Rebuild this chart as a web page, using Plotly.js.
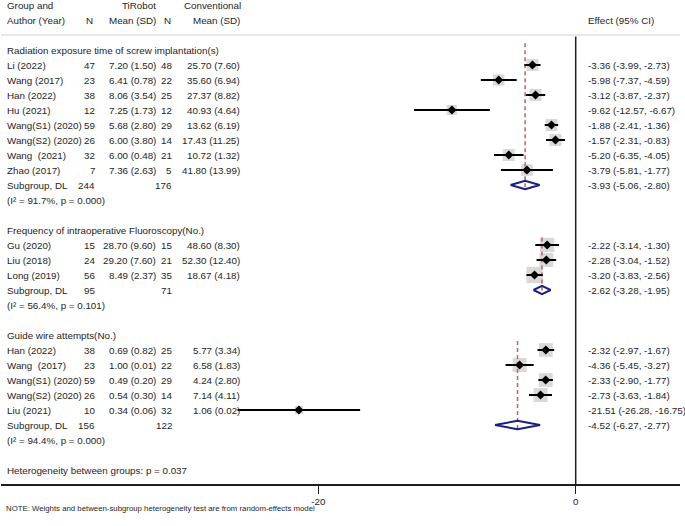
<!DOCTYPE html>
<html>
<head>
<meta charset="utf-8">
<script src="https://cdn.plot.ly/plotly-3.0.1.min.js"></script>
<style>html,body{margin:0;padding:0;background:#fff;}#chart{width:685px;height:526px;}</style>
</head>
<body>
<div id="chart"></div>
<script>
// ---------------- DATA ----------------
const groupNames = [
  "Radiation exposure time of screw implantation(s)",
  "Frequency of intraoperative Fluoroscopy(No.)",
  "Guide wire attempts(No.)"
];
const studyGroup = [0,0,0,0,0,0,0,0, 1,1,1, 2,2,2,2,2];
const studies = ["Li (2022)","Wang (2017)","Han (2022)","Hu (2021)","Wang(S1) (2020)","Wang(S2) (2020)","Wang\u00A0 (2021)","Zhao (2017)",
  "Gu (2020)","Liu (2018)","Long (2019)",
  "Han (2022)","Wang\u00A0 (2017)","Wang(S1) (2020)","Wang(S2) (2020)","Liu (2021)"];
const n1    = [47,23,38,12,59,26,32,7, 15,24,56, 38,23,59,26,10];
const mean1 = [7.20,6.41,8.06,7.25,5.68,6.00,6.00,7.36, 28.70,29.20,8.49, 0.69,1.00,0.49,0.54,0.34];
const sd1   = [1.50,0.78,3.54,1.73,2.80,3.80,0.48,2.63, 9.60,7.60,2.37, 0.82,0.01,0.20,0.30,0.06];
const n2    = [48,22,25,12,29,14,21,5, 15,21,35, 25,22,29,14,32];
const mean2 = [25.70,35.60,27.37,40.93,13.62,17.43,10.72,41.80, 48.60,52.30,18.67, 5.77,6.58,4.24,7.14,1.06];
const sd2   = [7.60,6.94,8.82,4.64,6.19,11.25,1.32,13.99, 8.30,12.40,4.18, 3.34,1.83,2.80,4.11,0.02];
const effect = [-3.36,-5.98,-3.12,-9.62,-1.88,-1.57,-5.20,-3.79, -2.22,-2.28,-3.20, -2.32,-4.36,-2.33,-2.73,-21.51];
const ciLow  = [-3.99,-7.37,-3.87,-12.57,-2.41,-2.31,-6.35,-5.81, -3.14,-3.04,-3.83, -2.97,-5.45,-2.90,-3.63,-26.28];
const ciHigh = [-2.73,-4.59,-2.37,-6.67,-1.36,-0.83,-4.05,-1.77, -1.30,-1.52,-2.56, -1.67,-3.27,-1.77,-1.84,-16.75];
// estimated weights (%)
const weights = [5.7,5.1,5.9,4.1,5.8,5.8,5.8,5.5, 8.1,7.9,10.6, 7.6,7.8,7.6,7.8,2.6];

const subN1 = [244,95,156];
const subN2 = [176,71,122];
const subEffect = [-3.93,-2.62,-4.52];
const subLow    = [-5.06,-3.28,-6.27];
const subHigh   = [-2.80,-1.95,-2.77];
const subI2     = [91.7,56.4,94.4];
const subP      = [0.000,0.101,0.000];
const betweenP  = 0.037;
const xTicks = [-20, 0];

// ---------------- LAYOUT GEOMETRY ----------------
const W = 685, H = 526;
const L = 1, R = 5, T = 0, B = 42;
const plotW = W - L - R, plotH = H - T - B;
const zeroPx = 575.7, pxPerUnit = 12.87;
const xmin = (L - zeroPx) / pxPerUnit, xmax = (W - R - zeroPx) / pxPerUnit;
const rowTopPx = 50, rowH = 15;
const yTop = (0 - rowTopPx) / rowH, yBot = (plotH - rowTopPx) / rowH;
const px = p => (p - L) / plotW;
const FONT = "Liberation Sans, Arial, Helvetica, sans-serif";
const FS = 9.8, TXT = "#1e1e1e";

const annotations = [];
function ann(text, xp, row, anchor, size) {
  annotations.push({text: text, xref: "paper", x: px(xp), yref: "y", y: row,
    xanchor: anchor, yanchor: "middle", showarrow: false, borderpad: 0,
    font: {family: FONT, size: size || FS, color: TXT}});
}
const f2 = v => v.toFixed(2);

// headers
ann("Group and", 6, -3, "left");
ann("Author (Year)", 6, -2, "left");
ann("TiRobot", 157, -3, "right");
ann("Conventional", 241.5, -3, "right");
ann("N", 94, -2, "right");
ann("Mean (SD)", 157, -2, "right");
ann("N", 172, -2, "right");
ann("Mean (SD)", 241, -2, "right");
ann("Effect (95% CI)", 587, -2, "left");

// rows
const studyRow = [], subRow = [], dashTopRow = [];
let r = 0;
const dashTopOffset = [-0.45, 0.5, 0.4];
for (let g = 0; g < groupNames.length; g++) {
  ann(groupNames[g], 6, r, "left");
  dashTopRow.push(r + dashTopOffset[g]);
  r++;
  for (let i = 0; i < studies.length; i++) {
    if (studyGroup[i] !== g) continue;
    studyRow[i] = r;
    ann(studies[i], 6, r, "left");
    ann(String(n1[i]), 95.7, r, "right");
    ann(f2(mean1[i]) + " (" + f2(sd1[i]) + ")", 157, r, "right");
    ann(String(n2[i]), 173, r, "right");
    ann(f2(mean2[i]) + " (" + f2(sd2[i]) + ")", 241, r, "right");
    ann(f2(effect[i]) + " (" + f2(ciLow[i]) + ", " + f2(ciHigh[i]) + ")", 587, r, "left");
    r++;
  }
  subRow[g] = r;
  ann("Subgroup, DL", 6, r, "left");
  ann(String(subN1[g]), 95.7, r, "right");
  ann(String(subN2[g]), 173, r, "right");
  ann(f2(subEffect[g]) + " (" + f2(subLow[g]) + ", " + f2(subHigh[g]) + ")", 587, r, "left");
  r++;
  ann("(I\u00B2 = " + subI2[g].toFixed(1) + "%, p = " + subP[g].toFixed(3) + ")", 6, r, "left");
  r += 2;
}
ann("Heterogeneity between groups: p = " + betweenP.toFixed(3), 6, r, "left");

annotations.push({text: "NOTE: Weights and between-subgroup heterogeneity test are from random-effects model",
  xref: "paper", x: px(5), yref: "paper", y: (plotH - 508) / plotH, xanchor: "left", yanchor: "middle",
  showarrow: false, borderpad: 0, font: {family: FONT, size: 7.8, color: TXT}});

// ---------------- TRACES ----------------
const traces = [];
// weight boxes
traces.push({type: "scatter", mode: "markers", x: effect, y: studyRow,
  marker: {symbol: "square", size: weights.map(w => 5 * Math.sqrt(w)), color: "#ccc8c8", line: {width: 0}},
  hoverinfo: "skip", showlegend: false});
// pooled dashed lines
const dx = [], dy = [];
for (let g = 0; g < groupNames.length; g++) {
  dx.push(subEffect[g], subEffect[g], null);
  dy.push(dashTopRow[g], subRow[g] + 0.33, null);
}
traces.push({type: "scatter", mode: "lines", x: dx, y: dy,
  line: {color: "#c0606a", width: 1.5, dash: "4px,3px"}, hoverinfo: "skip", showlegend: false});
// CI lines
const cx = [], cy = [];
for (let i = 0; i < studies.length; i++) { cx.push(ciLow[i], ciHigh[i], null); cy.push(studyRow[i], studyRow[i], null); }
traces.push({type: "scatter", mode: "lines", x: cx, y: cy,
  line: {color: "#000", width: 2}, hoverinfo: "skip", showlegend: false});
// point estimates
traces.push({type: "scatter", mode: "markers", x: effect, y: studyRow,
  marker: {symbol: "diamond", size: 7, color: "#000"}, hoverinfo: "skip", showlegend: false});
// subgroup diamonds
const hx = [], hy = [], hh = 0.28;
for (let g = 0; g < groupNames.length; g++) {
  const y0 = subRow[g];
  hx.push(subLow[g], subEffect[g], subHigh[g], subEffect[g], subLow[g], null);
  hy.push(y0, y0 - hh, y0, y0 + hh, y0, null);
}
traces.push({type: "scatter", mode: "lines", x: hx, y: hy,
  line: {color: "#1a1f80", width: 2}, hoverinfo: "skip", showlegend: false});

const layout = {
  width: W, height: H,
  margin: {l: L, r: R, t: T, b: B, pad: 0},
  paper_bgcolor: "#fff", plot_bgcolor: "#fff",
  showlegend: false,
  font: {family: FONT, size: FS, color: TXT},
  xaxis: {range: [xmin, xmax], showgrid: false, zeroline: false, showline: true,
    linecolor: "#1e1e1e", linewidth: 1.5, ticks: "outside", ticklen: 8, tickwidth: 1.5,
    tickcolor: "#1e1e1e", tickvals: xTicks, ticktext: xTicks.map(String),
    tickfont: {family: FONT, size: 9.8, color: TXT}, fixedrange: true},
  yaxis: {range: [yBot, yTop], visible: false, showgrid: false, zeroline: false, fixedrange: true},
  shapes: [
    {type: "line", xref: "paper", x0: 0, x1: 1, yref: "y", y0: -1, y1: -1,
      line: {color: "#d8d0d0", width: 1.2}},
    {type: "line", xref: "x", x0: 0, x1: 0, yref: "y", y0: -0.9, y1: yBot,
      line: {color: "#1e1e1e", width: 1.5}, layer: "below"}
  ],
  annotations: annotations
};

Plotly.newPlot("chart", traces, layout, {displayModeBar: false, staticPlot: true});
</script>
</body>
</html>
